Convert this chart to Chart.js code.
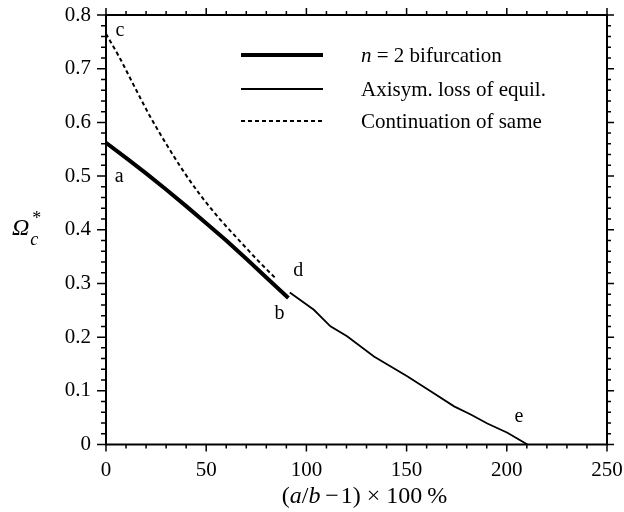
<!DOCTYPE html>
<html>
<head>
<meta charset="utf-8">
<script src="https://cdn.jsdelivr.net/npm/chart.js@4/dist/chart.umd.min.js"></script>
<style>
html,body{margin:0;padding:0;background:#fff;}
#wrap{width:624px;height:512px;position:relative;}
</style>
</head>
<body>
<div id="wrap"><canvas id="c" width="624" height="512"></canvas></div>
<script>
// ---- data ----
const bifX = [0, 10, 20, 30, 40, 50, 60, 70, 80, 91];
const bifY = [0.562, 0.534, 0.505, 0.475, 0.444, 0.412, 0.380, 0.346, 0.311, 0.273];

const axiX = [91.7, 103.7, 112, 120.3, 133.7, 150.3, 162, 173.7, 182, 190.3, 200.3, 210.3];
const axiY = [0.283, 0.251, 0.220, 0.2015, 0.164, 0.127, 0.099, 0.071, 0.056, 0.039, 0.022, 0.0];

const contX = [0, 7, 14, 22, 30, 39, 47, 57, 67, 77, 84.5];
const contY = [0.765, 0.719, 0.668, 0.611, 0.560, 0.507, 0.465, 0.419, 0.378, 0.338, 0.310];

const seriesNames = ["n = 2 bifurcation", "Axisym. loss of equil.", "Continuation of same"];

const xTickLabels = [0, 50, 100, 150, 200, 250];
const yTickLabels = [0, 0.1, 0.2, 0.3, 0.4, 0.5, 0.6, 0.7, 0.8];

const pointLabels = ["a", "b", "c", "d", "e"];
const pointLabelX = [6.6, 86.6, 7, 95.9, 206];
const pointLabelY = [0.499, 0.243, 0.771, 0.323, 0.052];

const FONT = "'Liberation Serif', 'Times New Roman', serif";

function pts(xs, ys){ return xs.map((x,i)=>({x:x, y:ys[i]})); }

const decor = {
  id: 'decor',
  afterDraw(chart){
    const ctx = chart.ctx;
    const a = chart.chartArea;
    const xs = chart.scales.x, ys = chart.scales.y;
    ctx.save();
    ctx.strokeStyle = '#000';
    ctx.fillStyle = '#000';
    // frame
    ctx.lineWidth = 2;
    ctx.strokeRect(a.left, a.top, a.right - a.left, a.bottom - a.top);
    // ticks (outward)
    ctx.lineWidth = 1.5;
    ctx.beginPath();
    for (let v = 0; v <= 250; v += 10){
      const px = xs.getPixelForValue(v);
      const major = v % 50 === 0;
      const L = major ? 7 : 4;
      ctx.moveTo(px, a.bottom); ctx.lineTo(px, a.bottom + L);
      ctx.moveTo(px, a.top); ctx.lineTo(px, a.top - L);
    }
    for (let i = 0; i <= 40; i++){
      const v = i * 0.02;
      const py = ys.getPixelForValue(v);
      const major = i % 5 === 0;
      ctx.moveTo(a.left, py); ctx.lineTo(a.left - (major ? 9 : 5), py);
      ctx.moveTo(a.right, py); ctx.lineTo(a.right + (major ? 7 : 4), py);
    }
    ctx.stroke();

    // point labels a..e
    ctx.font = '20px ' + FONT;
    ctx.textAlign = 'center';
    ctx.textBaseline = 'middle';
    pointLabels.forEach((t,i)=>{
      ctx.fillText(t, xs.getPixelForValue(pointLabelX[i]), ys.getPixelForValue(pointLabelY[i]));
    });

    // legend
    const ds = chart.data.datasets;
    const rowY = [55, 89, 121];
    const x0 = 241, x1 = 323, tx = 361;
    ds.forEach((d,i)=>{
      ctx.save();
      ctx.lineWidth = d.borderWidth;
      ctx.setLineDash(d.borderDash || []);
      ctx.beginPath();
      ctx.moveTo(x0, rowY[i]); ctx.lineTo(x1, rowY[i]);
      ctx.stroke();
      ctx.restore();
    });
    ctx.textAlign = 'left';
    ctx.textBaseline = 'alphabetic';
    let cx = tx;
    ctx.font = 'italic 21px ' + FONT;
    ctx.fillText('n', cx, rowY[0] + 7); cx += ctx.measureText('n').width;
    ctx.font = '21px ' + FONT;
    ctx.fillText(' = 2 bifurcation', cx, rowY[0] + 7);
    ctx.fillText(seriesNames[1], tx, rowY[1] + 7);
    ctx.fillText(seriesNames[2], tx, rowY[2] + 7);

    // y title: Omega*_c
    ctx.font = 'italic 24px ' + FONT;
    ctx.fillText('\u03A9', 12, 235);
    const ow = ctx.measureText('\u03A9').width;
    ctx.font = '18px ' + FONT;
    ctx.fillText('*', 12 + ow + 3, 224);
    ctx.font = 'italic 18px ' + FONT;
    ctx.fillText('c', 12 + ow + 1, 245);

    // x title
    const parts = [['(', false], ['a', true], ['/', false], ['b', true], ['\u2009\u2212\u200A1) \u00D7 100\u2009%', false]];
    let w = 0;
    parts.forEach(p=>{ ctx.font = (p[1] ? 'italic ' : '') + '24px ' + FONT; w += ctx.measureText(p[0]).width; });
    let sx = (a.left + a.right) / 2 + 8 - w / 2;
    parts.forEach(p=>{
      ctx.font = (p[1] ? 'italic ' : '') + '24px ' + FONT;
      ctx.fillText(p[0], sx, 503);
      sx += ctx.measureText(p[0]).width;
    });
    ctx.restore();
  }
};

new Chart(document.getElementById('c'), {
  type: 'line',
  data: {
    datasets: [
      { label: seriesNames[0], data: pts(bifX, bifY), borderColor: '#000', borderWidth: 4, pointRadius: 0, tension: 0, borderCapStyle: 'butt' },
      { label: seriesNames[1], data: pts(axiX, axiY), borderColor: '#000', borderWidth: 1.8, pointRadius: 0, tension: 0 },
      { label: seriesNames[2], data: pts(contX, contY), borderColor: '#000', borderWidth: 2, borderDash: [4, 3], pointRadius: 0, cubicInterpolationMode: 'monotone' }
    ]
  },
  options: {
    responsive: false,
    animation: false,
    layout: { padding: 0 },
    plugins: { legend: { display: false }, tooltip: { enabled: false } },
    scales: {
      x: {
        type: 'linear', min: 0, max: 250,
        grid: { display: false, drawTicks: false }, border: { display: false },
        afterBuildTicks(s){ s.ticks = xTickLabels.map(v=>({value:v})); },
        ticks: { color: '#000', font: { family: FONT, size: 21 }, padding: 13, maxRotation: 0,
                 callback: v => String(v) },
        afterFit(s){ s.height = 67.5; s.paddingLeft = 0; s.paddingRight = 17; }
      },
      y: {
        type: 'linear', min: 0, max: 0.8,
        grid: { display: false, drawTicks: false }, border: { display: false },
        afterBuildTicks(s){ s.ticks = yTickLabels.map(v=>({value:v})); },
        ticks: { color: '#000', font: { family: FONT, size: 21 }, padding: 15,
                 callback: v => (v === 0 ? '0' : Number(v).toFixed(1)) },
        afterFit(s){ s.width = 106; s.paddingTop = 15; s.paddingBottom = 0; }
      }
    }
  },
  plugins: [decor]
});
</script>
</body>
</html>
